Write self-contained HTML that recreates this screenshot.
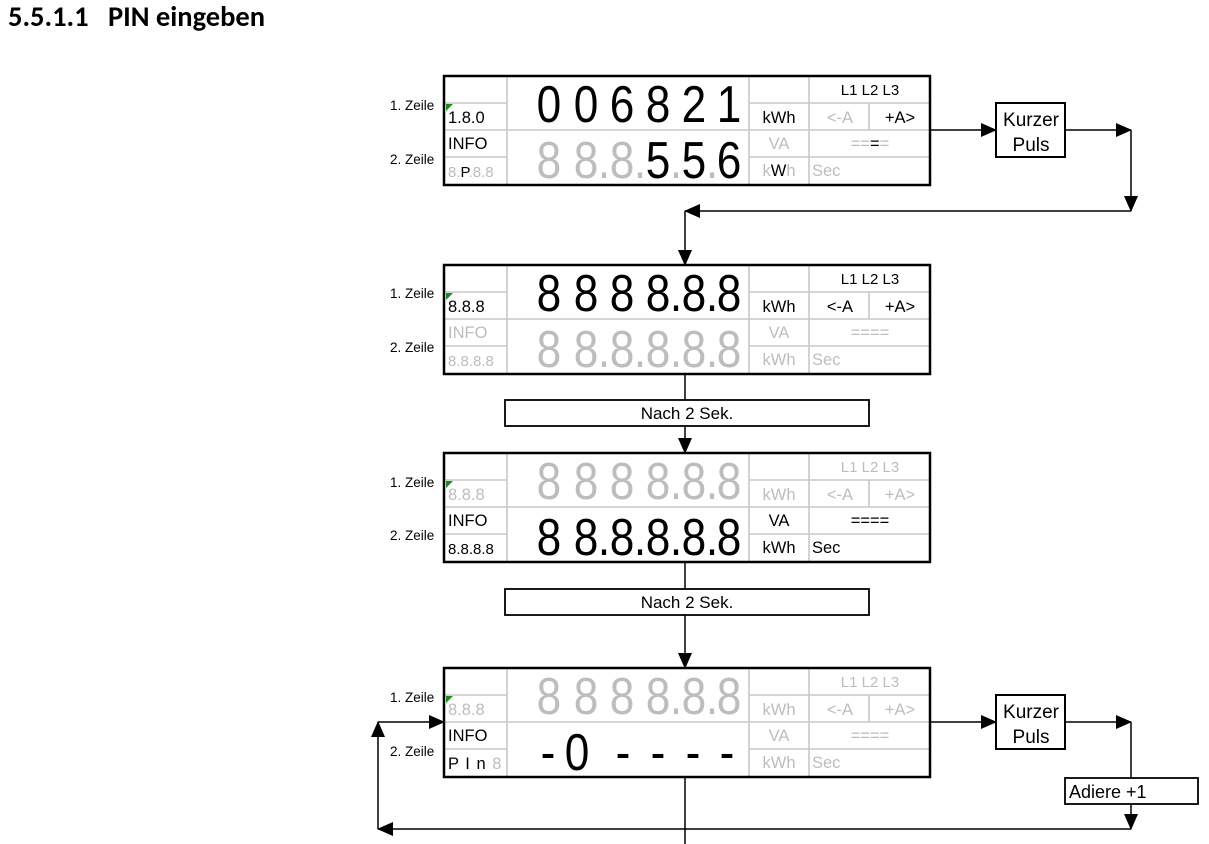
<!DOCTYPE html>
<html><head><meta charset="utf-8"><style>
html,body{margin:0;padding:0;background:#fff;}
svg{display:block;}
text{font-family:"Liberation Sans",Arial,sans-serif;}
.c{font-family:"Carlito","Liberation Sans",sans-serif;}
.d{font-family:"Liberation Sans",sans-serif;font-size:52px;text-anchor:middle;}
.s{font-size:16.5px;}
.m{text-anchor:middle;}
.g{fill:#bdbdbd;}
.k{fill:#000;}
.grid line{stroke:#c8c8c8;stroke-width:1.6;}
</style></head><body>
<svg width="1209" height="844" viewBox="0 0 1209 844" xmlns="http://www.w3.org/2000/svg">
<defs>
<g id="grid" class="grid">
<line x1="63" y1="0" x2="63" y2="109"/>
<line x1="305" y1="0" x2="305" y2="109"/>
<line x1="365" y1="0" x2="365" y2="109"/>
<line x1="425" y1="27" x2="425" y2="54"/>
<line x1="0" y1="27" x2="63" y2="27"/>
<line x1="305" y1="27" x2="486" y2="27"/>
<line x1="0" y1="54" x2="486" y2="54"/>
<line x1="0" y1="81" x2="63" y2="81"/>
<line x1="305" y1="81" x2="486" y2="81"/>
</g>
<marker id="ah2" markerWidth="16" markerHeight="14" refX="15" refY="7" orient="auto" markerUnits="userSpaceOnUse">
<path d="M0,0 L16,7 L0,14 z" fill="#000"/></marker>
</defs>

<text x="8" y="26" class="c" style="font-size:28.5px;font-weight:bold">5.5.1.1&#160;&#160;&#160;PIN eingeben</text>

<!-- Panel 1 -->
<g transform="translate(444,76)">
<use href="#grid"/>
<rect x="0" y="0" width="486" height="109" fill="none" stroke="#000" stroke-width="2.5"/>
<polygon points="2,28 9,28 2,35" fill="#1a8a1a"/>
<text x="4" y="47" class="s k">1.8.0</text>
<text x="4" y="73" class="s k">INFO</text>
<text x="4" y="101" class="s g" style="font-size:15px">8.<tspan class="k">P</tspan>.8.8</text>
<text transform="scale(0.85,1)" x="123.5 167.1 209.4 251.8 294.1 335.3" y="46" class="d k">006821</text>
<text transform="scale(0.85,1)" x="123.5 167.1 188.2 209.4 230.6 251.8 272.9 294.1 315.3 335.3" y="102" class="d g">88.8.<tspan class="k">5</tspan>.<tspan class="k">5</tspan>.<tspan class="k">6</tspan></text>
<text x="335" y="47" class="s m k">kWh</text>
<text x="335" y="73" class="s m g">VA</text>
<text x="335" y="100" class="s m g">k<tspan class="k">W</tspan>h</text>
<text x="426" y="19" class="s m k" style="font-size:15px">L1 L2 L3</text>
<text x="396" y="47" class="s m g">&lt;-A</text>
<text x="456" y="47" class="s m k">+A&gt;</text>
<text x="426" y="73" class="s m g">==<tspan class="k">=</tspan>=</text>
<text x="368" y="100" class="s g">Sec</text>
</g>

<!-- Panel 2 -->
<g transform="translate(444,265)">
<use href="#grid"/>
<rect x="0" y="0" width="486" height="109" fill="none" stroke="#000" stroke-width="2.5"/>
<polygon points="2,28 9,28 2,35" fill="#1a8a1a"/>
<text x="4" y="47" class="s k">8.8.8</text>
<text x="4" y="73" class="s g">INFO</text>
<text x="4" y="101" class="s g" style="font-size:15px">8.8.8.8</text>
<text transform="scale(0.85,1)" x="123.5 167.1 209.4 251.8 272.9 294.1 315.3 335.3" y="46" class="d k">8888.8.8</text>
<text transform="scale(0.85,1)" x="123.5 167.1 188.2 209.4 230.6 251.8 272.9 294.1 315.3 335.3" y="102" class="d g">88.8.8.8.8</text>
<text x="335" y="47" class="s m k">kWh</text>
<text x="335" y="73" class="s m g">VA</text>
<text x="335" y="100" class="s m g">kWh</text>
<text x="426" y="19" class="s m k" style="font-size:15px">L1 L2 L3</text>
<text x="396" y="47" class="s m k">&lt;-A</text>
<text x="456" y="47" class="s m k">+A&gt;</text>
<text x="426" y="73" class="s m g">====</text>
<text x="368" y="100" class="s g">Sec</text>
</g>

<!-- Panel 3 -->
<g transform="translate(444,453)">
<use href="#grid"/>
<rect x="0" y="0" width="486" height="109" fill="none" stroke="#000" stroke-width="2.5"/>
<polygon points="2,28 9,28 2,35" fill="#1a8a1a"/>
<text x="4" y="47" class="s g">8.8.8</text>
<text x="4" y="73" class="s k">INFO</text>
<text x="4" y="101" class="s k" style="font-size:15px">8.8.8.8</text>
<text transform="scale(0.85,1)" x="123.5 167.1 209.4 251.8 272.9 294.1 315.3 335.3" y="46" class="d g">8888.8.8</text>
<text transform="scale(0.85,1)" x="123.5 167.1 188.2 209.4 230.6 251.8 272.9 294.1 315.3 335.3" y="102" class="d k">88.8.8.8.8</text>
<text x="335" y="47" class="s m g">kWh</text>
<text x="335" y="73" class="s m k">VA</text>
<text x="335" y="100" class="s m k">kWh</text>
<text x="426" y="19" class="s m g" style="font-size:15px">L1 L2 L3</text>
<text x="396" y="47" class="s m g">&lt;-A</text>
<text x="456" y="47" class="s m g">+A&gt;</text>
<text x="426" y="73" class="s m k">====</text>
<text x="368" y="100" class="s k">Sec</text>
</g>

<!-- Panel 4 -->
<g transform="translate(444,668)">
<use href="#grid"/>
<rect x="0" y="0" width="486" height="109" fill="none" stroke="#000" stroke-width="2.5"/>
<polygon points="2,28 9,28 2,35" fill="#1a8a1a"/>
<text x="4" y="47" class="s g">8.8.8</text>
<text x="4" y="73" class="s k">INFO</text>
<text x="4" y="101" class="s k" style="letter-spacing:1px">P I n <tspan class="g">8</tspan></text>
<text transform="scale(0.85,1)" x="123.5 167.1 209.4 251.8 272.9 294.1 315.3 335.3" y="46" class="d g">8888.8.8</text>
<text transform="scale(0.85,1)" x="122.4 156.5 210.6 251.8 292.9 332.9" y="102" class="d k" style="font-weight:normal">-0----</text>
<text x="335" y="47" class="s m g">kWh</text>
<text x="335" y="73" class="s m g">VA</text>
<text x="335" y="100" class="s m g">kWh</text>
<text x="426" y="19" class="s m g" style="font-size:15px">L1 L2 L3</text>
<text x="396" y="47" class="s m g">&lt;-A</text>
<text x="456" y="47" class="s m g">+A&gt;</text>
<text x="426" y="73" class="s m g">====</text>
<text x="368" y="100" class="s g">Sec</text>
</g>

<!-- Zeile labels -->
<g class="c" style="font-size:13.5px">
<text x="390" y="110">1. Zeile</text><text x="390" y="164">2. Zeile</text>
<text x="390" y="298">1. Zeile</text><text x="390" y="352">2. Zeile</text>
<text x="390" y="487">1. Zeile</text><text x="390" y="540">2. Zeile</text>
<text x="390" y="702">1. Zeile</text><text x="390" y="756">2. Zeile</text>
</g>

<!-- Boxes -->
<g fill="none" stroke="#000">
<rect x="996" y="103" width="69" height="54" stroke-width="2"/>
<rect x="996" y="695" width="69" height="54" stroke-width="2"/>
<rect x="505" y="400" width="364" height="26" stroke-width="1.8"/>
<rect x="505" y="589" width="364" height="26" stroke-width="1.8"/>
<rect x="1065" y="778" width="133" height="26" stroke-width="1.8"/>
</g>
<g class="c" style="font-size:19px">
<text x="1031" y="126" class="m">Kurzer</text><text x="1031" y="151" class="m">Puls</text>
<text x="1031" y="718" class="m">Kurzer</text><text x="1031" y="743" class="m">Puls</text>
<text x="687" y="419" class="m" style="font-size:17px">Nach 2 Sek.</text>
<text x="687" y="608" class="m" style="font-size:17px">Nach 2 Sek.</text>
<text x="1069" y="798" style="font-size:18px">Adiere +1</text>
</g>

<!-- Connectors -->
<g stroke="#000" stroke-width="1.5" fill="none">
<line x1="930" y1="130" x2="996" y2="130" marker-end="url(#ah2)"/>
<line x1="1065" y1="130" x2="1131" y2="130" marker-end="url(#ah2)"/>
<line x1="1131" y1="130" x2="1131" y2="211" marker-end="url(#ah2)"/>
<line x1="1131" y1="211" x2="685" y2="211" marker-end="url(#ah2)"/>
<line x1="685" y1="211" x2="685" y2="265" marker-end="url(#ah2)"/>
<line x1="685" y1="374" x2="685" y2="400"/>
<line x1="685" y1="426" x2="685" y2="453" marker-end="url(#ah2)"/>
<line x1="685" y1="562" x2="685" y2="589"/>
<line x1="685" y1="615" x2="685" y2="668" marker-end="url(#ah2)"/>
<line x1="930" y1="722" x2="996" y2="722" marker-end="url(#ah2)"/>
<line x1="1065" y1="722" x2="1131" y2="722" marker-end="url(#ah2)"/>
<line x1="1131" y1="722" x2="1131" y2="778"/>
<line x1="1131" y1="804" x2="1131" y2="829" marker-end="url(#ah2)"/>
<line x1="1131" y1="829" x2="378" y2="829" marker-end="url(#ah2)"/>
<line x1="378" y1="829" x2="378" y2="722" marker-end="url(#ah2)"/>
<line x1="378" y1="722" x2="444" y2="722" marker-end="url(#ah2)"/>
<line x1="685" y1="777" x2="685" y2="844"/>
</g>
</svg>
</body></html>
